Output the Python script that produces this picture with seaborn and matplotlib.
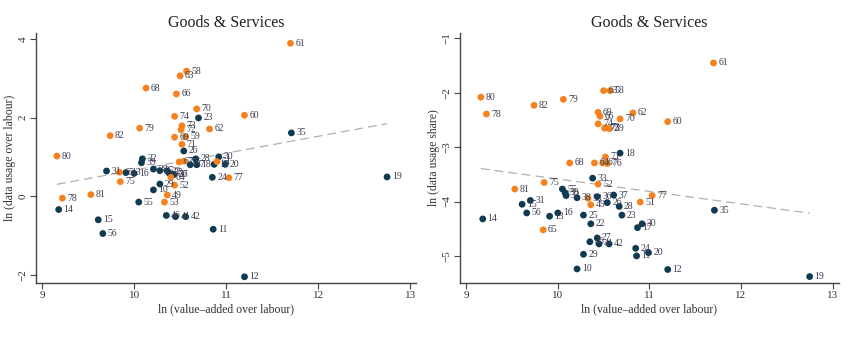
import numpy as np
import pandas as pd
import matplotlib
matplotlib.use("Agg")
import matplotlib.pyplot as plt
import seaborn as sns

labels = [10, 11, 12, 13, 14, 15, 16, 17, 18, 19, 20, 22, 23, 24, 25, 26, 27, 28, 29, 30,
          31, 32, 33, 35, 36, 37, 38, 39, 41, 42, 46, 55, 56,
          49, 51, 52, 53, 58, 59, 60, 61, 62, 63, 64, 65, 66, 67, 68, 69, 70, 71, 72, 73,
          74, 75, 76, 77, 78, 79, 80, 81, 82]
group = ["goods"] * 33 + ["services"] * 29
va_labour = [10.21, 10.86, 11.20, 9.91, 9.18, 9.61, 10.00, 10.87, 10.68, 12.75, 10.99, 10.36, 10.70,
             10.85, 10.28, 10.54, 10.43, 10.67, 10.28, 10.92, 9.70, 10.09, 10.38, 11.71, 10.43,
             10.61, 10.21, 10.08, 10.45, 10.56, 10.35, 10.05, 9.66,
             10.36, 10.90, 10.44, 10.33, 10.57, 10.56, 11.20, 11.70, 10.82, 10.50, 10.40, 9.84,
             10.46, 10.49, 10.13, 10.44, 10.68, 10.52, 10.51, 10.52, 10.44, 9.85, 10.54, 11.03,
             9.22, 10.06, 9.16, 9.53, 9.74]
data_labour = [0.16, -0.84, -2.05, 0.60, -0.34, -0.60, 0.58, 0.81, 0.80, 0.49, 0.81, 0.64, 1.99,
               0.48, 0.65, 1.15, 0.55, 0.95, 0.31, 1.00, 0.64, 0.95, 0.59, 1.61, 0.55,
               0.80, 0.69, 0.85, -0.52, -0.52, -0.49, -0.15, -0.95,
               0.03, 0.88, 0.28, -0.15, 3.18, 1.51, 2.06, 3.89, 1.71, 3.06, 0.48, 0.61,
               2.60, 0.87, 2.75, 1.50, 2.22, 1.32, 1.69, 1.79, 2.03, 0.37, 0.89, 0.47,
               -0.05, 1.73, 1.02, 0.04, 1.54]
data_share = [-5.24, -5.00, -5.25, -4.27, -4.32, -4.05, -4.21, -4.48, -3.11, -5.38, -4.94, -4.41, -4.25,
              -4.86, -4.25, -4.02, -4.67, -4.09, -4.97, -4.41, -3.98, -3.89, -3.57, -4.16, -3.91,
              -3.88, -3.93, -3.84, -4.78, -4.78, -4.74, -3.77, -4.21,
              -4.06, -4.01, -3.68, -3.94, -1.96, -2.66, -2.53, -1.45, -2.37, -1.96, -3.29, -4.52,
              -2.43, -3.29, -3.29, -2.36, -2.48, -3.18, -2.65, -2.64, -2.57, -3.65, -3.30, -3.89,
              -2.39, -2.12, -2.08, -3.77, -2.23]

df = pd.DataFrame({"label": labels, "group": group, "x": va_labour,
                   "yl": data_labour, "yr": data_share})

sns.set_style("white")
plt.rcParams["font.family"] = ["Liberation Serif", "DejaVu Serif"]

palette = {"goods": "#0f3a52", "services": "#f5821f"}
fig = plt.figure(figsize=(8.5, 3.37), dpi=100)
ax1 = fig.add_axes([0.042, 0.160, 0.448, 0.742])
ax2 = fig.add_axes([0.541, 0.160, 0.446, 0.742])

panels = [(ax1, "yl", "ln (data usage over labour)", (-2.21, 4.15), [-2, 0, 2, 4]),
          (ax2, "yr", "ln (data usage share)", (-5.5, -0.9), [-5, -4, -3, -2, -1])]

for ax, ycol, ylab, ylim, yticks in panels:
    sns.regplot(data=df, x="x", y=ycol, scatter=False, ci=None, ax=ax,
                line_kws={"color": "#b0b0b0", "lw": 0.9, "ls": (0, (7, 4))})
    sns.scatterplot(data=df, x="x", y=ycol, hue="group", palette=palette, s=24,
                    edgecolor="none", legend=False, ax=ax, zorder=3)
    for _, r in df.iterrows():
        ax.annotate(str(r["label"]), (r["x"], r[ycol]), xytext=(3.5, 0),
                    textcoords="offset points", va="center", ha="left",
                    fontsize=7, color="#3c3c50", zorder=4)
    ax.set_xlim(8.93, 13.07)
    ax.set_ylim(*ylim)
    ax.set_xticks([9, 10, 11, 12, 13])
    ax.set_yticks(yticks)
    ax.set_xlabel("ln (value\u2013added over labour)", fontsize=8.5, labelpad=2, color="#333333")
    ax.set_ylabel(ylab, fontsize=8.5, labelpad=2, color="#333333")
    ax.set_title("Goods & Services", fontsize=11.5, pad=4, color="#222222")
    for s in ["top", "right"]:
        ax.spines[s].set_visible(False)
    for s in ["left", "bottom"]:
        ax.spines[s].set_color("#444444")
        ax.spines[s].set_linewidth(1.0)
    ax.tick_params(axis="both", direction="out", length=4, width=0.8, colors="#444444",
                   labelsize=8, labelcolor="#333333", pad=2)
    ax.tick_params(axis="both", which="both", bottom=True, left=True)
    for t in ax.get_yticklabels():
        t.set_rotation(90)
        t.set_va("center")

fig.savefig("out.png", dpi=100)
